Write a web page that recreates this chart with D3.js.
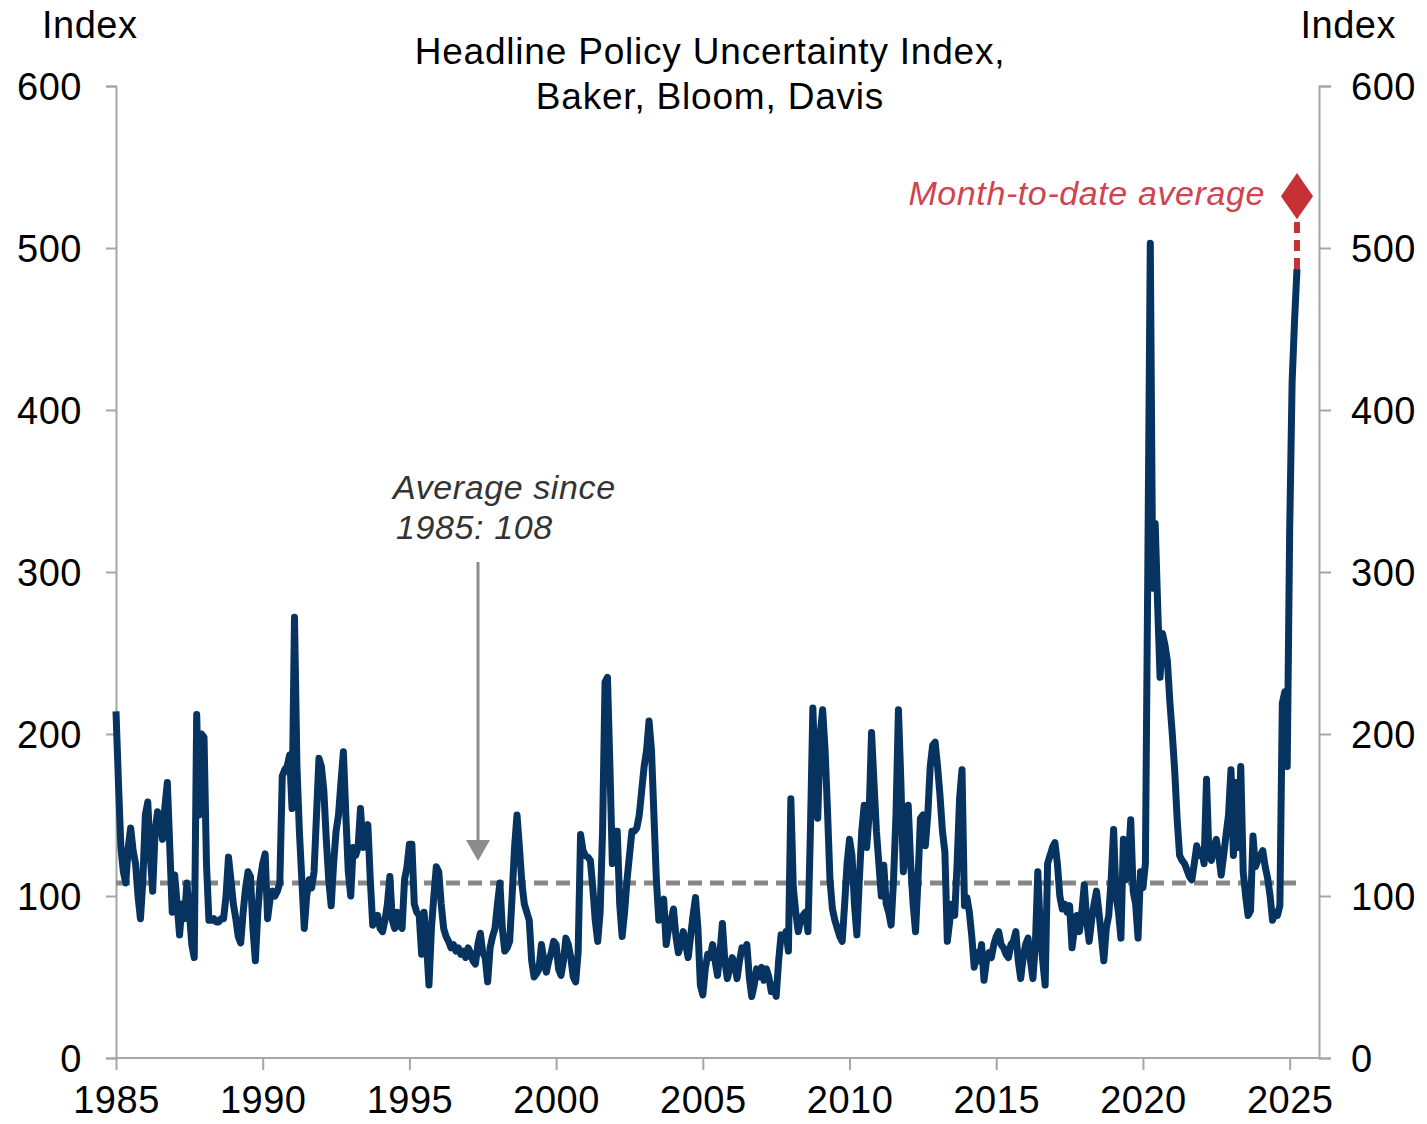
<!DOCTYPE html>
<html>
<head>
<meta charset="utf-8">
<script src="https://cdn.jsdelivr.net/npm/d3@7"></script>
<style>
    body { margin: 0; background: #fff; }
    svg text { font-family: "Liberation Sans", Arial, sans-serif; }
</style>
</head>
<body>
<svg></svg>
<script>
// monthly index, Jan 1985 onwards (one row per year)
let epu = [
    214, 170, 130, 115, 108, 130, 142, 128, 120, 100, 86, 110,
    150, 158, 125, 103, 140, 152, 148, 135, 155, 170, 130, 90,
    113, 95, 76, 95, 86, 108, 90, 70, 62, 212, 150, 200,
    198, 120, 85, 85, 86, 84, 84, 86, 86, 100, 124, 110,
    95, 86, 75, 71, 90, 105, 115, 112, 80, 60, 90, 110,
    120, 126, 86, 98, 103, 100, 103, 108, 174, 178, 180, 187,
    154, 272, 180, 140, 110, 80, 100, 110, 105, 115, 150, 185,
    180, 165, 135, 110, 94, 120, 140, 150, 170, 189, 150, 115,
    100, 130, 125, 130, 154, 130, 140, 144, 110, 82, 85, 88,
    80, 78, 85, 95, 112, 85, 80, 90, 82, 80, 110, 118,
    132, 132, 95, 90, 88, 64, 90, 70, 45, 80, 100, 118,
    115, 95, 80, 75, 72, 68, 70, 66, 68, 64, 66, 62,
    68, 65, 60, 58, 70, 77, 65, 62, 47, 68, 75, 80,
    95, 108, 80, 66, 68, 72, 100, 130, 150, 130, 108, 95,
    90, 85, 60, 50, 52, 55, 70, 60, 53, 60, 65, 72,
    70, 55, 51, 60, 74, 70, 62, 50, 47, 65, 138, 128,
    125, 124, 122, 105, 85, 72, 90, 140, 232, 235, 180, 120,
    140, 140, 95, 75, 90, 110, 125, 140, 140, 142, 150, 165,
    180, 190, 208, 190, 150, 110, 85, 95, 98, 70, 80, 85,
    92, 75, 65, 70, 78, 70, 62, 75, 88, 99, 80, 45,
    39, 55, 64, 62, 70, 60, 51, 65, 83, 60, 49, 55,
    62, 58, 49, 60, 68, 66, 70, 50, 38, 45, 55, 50,
    56, 48, 55, 50, 41, 45, 38, 60, 76, 74, 78, 66,
    160, 105, 90, 78, 85, 88, 90, 78, 140, 216, 170, 148,
    200, 215, 190, 152, 110, 92, 85, 80, 75, 72, 95, 120,
    135, 125, 95, 76, 110, 140, 156, 130, 150, 201, 170, 140,
    120, 100, 119, 95, 90, 82, 110, 150, 215, 170, 115, 130,
    156, 120, 95, 78, 110, 148, 150, 131, 150, 180, 193, 195,
    180, 162, 140, 127, 72, 85, 95, 88, 120, 160, 178, 94,
    99, 90, 75, 56, 65, 60, 70, 48, 60, 65, 62, 70,
    75, 78, 70, 68, 64, 62, 70, 72, 78, 60, 49, 62,
    70, 74, 60, 49, 70, 115, 80, 60, 45, 120, 125, 130,
    133, 120, 100, 92, 95, 90, 94, 68, 80, 88, 78, 90,
    107, 85, 72, 85, 95, 103, 90, 75, 60, 80, 88, 110,
    141, 100, 90, 74, 135, 110, 120, 147, 103, 95, 74, 115,
    105, 120, 304, 503, 290, 330, 280, 235, 262, 255, 245, 220,
    200, 177, 147, 125, 122, 120, 116, 112, 110, 120, 131, 125,
    128, 120, 172, 125, 122, 130, 135, 125, 113, 125, 138, 150,
    178, 125, 170, 130, 180, 115, 100, 88, 91, 137, 118, 122,
    125, 128, 118, 111, 100, 85, 90, 88, 94, 219, 226, 180,
    325, 417, 455, 487
];
let startYear = 1985;
let average = 108;
let monthToDate = 532;

let yTicks = [0, 100, 200, 300, 400, 500, 600];
let xTicks = [1985, 1990, 1995, 2000, 2005, 2010, 2015, 2020, 2025];

let width = 1427,
    height = 1124;

let svg = d3.select('svg')
    .attr('width', width)
    .attr('height', height);

let x = d3.scaleLinear().domain([1985, 2026]).range([116, 1319]);
let y = d3.scaleLinear().domain([0, 600]).range([1058, 86]);

let data = epu.map((v, i) => ({ t: startYear + i / 12, v: v }));
let last = data[data.length - 1];

let axisColor = '#a6a6a6';

// axes
let left = svg.append('g').attr('transform', 'translate(116,0)')
    .call(d3.axisLeft(y).tickValues(yTicks).tickSize(10).tickPadding(24));
let right = svg.append('g').attr('transform', 'translate(1319,0)')
    .call(d3.axisRight(y).tickValues(yTicks).tickSize(12).tickPadding(20));
let bottom = svg.append('g').attr('transform', 'translate(0,1058)')
    .call(d3.axisBottom(x).tickValues(xTicks).tickFormat(d3.format('d')).tickSize(12).tickPadding(16));

[left, right, bottom].forEach(g => {
    g.select('.domain').attr('stroke', axisColor).attr('stroke-width', 2);
    g.selectAll('.tick line').attr('stroke', axisColor).attr('stroke-width', 2);
    g.selectAll('.tick text').attr('fill', '#000')
        .style('font-size', '38px').style('letter-spacing', '0.5px');
});
left.selectAll('.tick text').attr('dy', '0.36em');
right.selectAll('.tick text').attr('dy', '0.36em');
bottom.selectAll('.tick text').attr('dy', '0.72em');
bottom.select('.domain').attr('d', 'M116,0H1319');

// average line
svg.append('line')
    .attr('x1', x(1985)).attr('x2', x(last.t) + 4)
    .attr('y1', y(average)).attr('y2', y(average))
    .attr('stroke', '#878787')
    .attr('stroke-width', 5)
    .attr('stroke-dasharray', '14,8');

// series
let line = d3.line()
    .x(d => x(d.t))
    .y(d => y(d.v));

svg.append('path')
    .datum(data)
    .attr('d', line)
    .attr('fill', 'none')
    .attr('stroke', '#06335f')
    .attr('stroke-width', 7)
    .attr('stroke-linejoin', 'round');

// month-to-date marker
svg.append('line')
    .attr('x1', x(last.t)).attr('x2', x(last.t))
    .attr('y1', y(last.v)).attr('y2', y(monthToDate))
    .attr('stroke', '#c73035')
    .attr('stroke-width', 6)
    .attr('stroke-dasharray', '11,7');

svg.append('path')
    .attr('d', d3.symbol(d3.symbolDiamond, 620)())
    .attr('transform', 'translate(' + x(last.t) + ',' + y(monthToDate) + ') scale(1.2,1)')
    .attr('fill', '#c73035');

svg.append('text')
    .attr('x', 1265).attr('y', 205)
    .attr('text-anchor', 'end')
    .style('font-size', '34px')
    .style('letter-spacing', '0.6px')
    .style('font-style', 'italic')
    .attr('fill', '#d0434f')
    .text('Month-to-date average');

// average annotation
let note = svg.append('g')
    .style('font-size', '34px')
    .style('letter-spacing', '0.6px')
    .style('font-style', 'italic')
    .attr('fill', '#333');
note.append('text').attr('x', 393).attr('y', 499).text('Average since');
note.append('text').attr('x', 396).attr('y', 539).text('1985: ' + average);

svg.append('line')
    .attr('x1', 478).attr('x2', 478)
    .attr('y1', 562).attr('y2', 842)
    .attr('stroke', '#8c8c8c')
    .attr('stroke-width', 3);
svg.append('path')
    .attr('d', 'M466,840L490,840L478,861Z')
    .attr('fill', '#8c8c8c');

// titles
let title = svg.append('g')
    .attr('text-anchor', 'middle')
    .style('font-size', '37px')
    .style('letter-spacing', '0.8px');
title.append('text').attr('x', 710).attr('y', 64).text('Headline Policy Uncertainty Index,');
title.append('text').attr('x', 710).attr('y', 109).text('Baker, Bloom, Davis');

svg.append('text')
    .attr('x', 42).attr('y', 38)
    .style('font-size', '38px')
    .style('letter-spacing', '0.5px')
    .text('Index');
svg.append('text')
    .attr('x', 1396).attr('y', 38)
    .attr('text-anchor', 'end')
    .style('font-size', '38px')
    .style('letter-spacing', '0.5px')
    .text('Index');
</script>
</body>
</html>
